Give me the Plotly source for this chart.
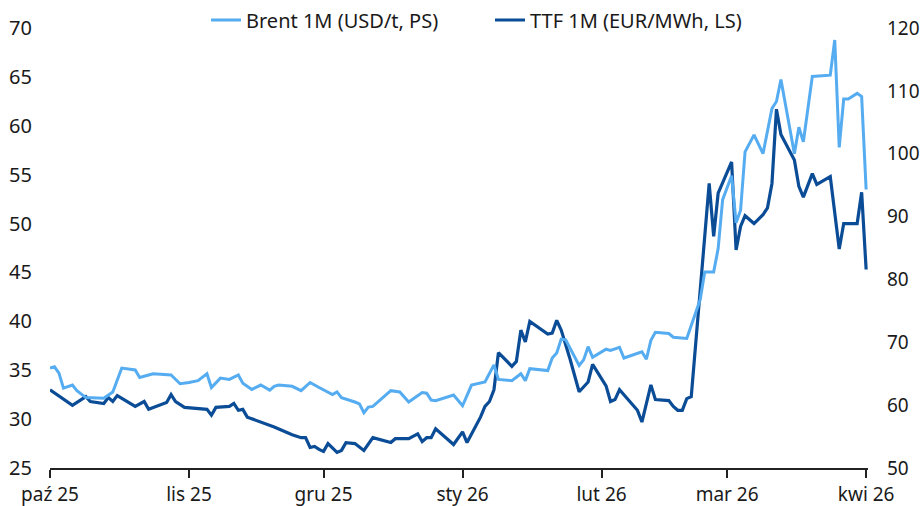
import plotly.graph_objects as go

# ---- data ----
ttf_dates = [
    "2025-10-01", "2025-10-06", "2025-10-09", "2025-10-10", "2025-10-13", "2025-10-14",
    "2025-10-15", "2025-10-16", "2025-10-20", "2025-10-22", "2025-10-23", "2025-10-27",
    "2025-10-28", "2025-10-29", "2025-10-31", "2025-11-05", "2025-11-06", "2025-11-07",
    "2025-11-10", "2025-11-11", "2025-11-12", "2025-11-13", "2025-11-14", "2025-11-17",
    "2025-11-19", "2025-11-20", "2025-11-24", "2025-11-26", "2025-11-27", "2025-11-28",
    "2025-11-29", "2025-11-30", "2025-12-01", "2025-12-02", "2025-12-04", "2025-12-05",
    "2025-12-06", "2025-12-08", "2025-12-10", "2025-12-11", "2025-12-12", "2025-12-16",
    "2025-12-17", "2025-12-20", "2025-12-22", "2025-12-23", "2025-12-24", "2025-12-25",
    "2025-12-26", "2025-12-30", "2026-01-01", "2026-01-02", "2026-01-05", "2026-01-06",
    "2026-01-07", "2026-01-08", "2026-01-09", "2026-01-12", "2026-01-13", "2026-01-14",
    "2026-01-15", "2026-01-16", "2026-01-20", "2026-01-21", "2026-01-22", "2026-01-23",
    "2026-01-25", "2026-01-27", "2026-01-28", "2026-01-29", "2026-01-30", "2026-02-02",
    "2026-02-03", "2026-02-04", "2026-02-05", "2026-02-09", "2026-02-10", "2026-02-12",
    "2026-02-13", "2026-02-16", "2026-02-17", "2026-02-18", "2026-02-19", "2026-02-20",
    "2026-02-21", "2026-02-25", "2026-02-26", "2026-02-27", "2026-03-02", "2026-03-03",
    "2026-03-04", "2026-03-05", "2026-03-07", "2026-03-09", "2026-03-10", "2026-03-11",
    "2026-03-12", "2026-03-13", "2026-03-16", "2026-03-17", "2026-03-18", "2026-03-20",
    "2026-03-21", "2026-03-24", "2026-03-26", "2026-03-27", "2026-03-30", "2026-03-31",
    "2026-04-01",
]
ttf_values = [
    33.0, 31.4, 32.3, 31.8, 31.6, 32.2,
    31.8, 32.4, 31.3, 31.8, 31.0, 31.7,
    32.5, 31.8, 31.2, 31.0, 30.4, 31.2,
    31.3, 31.6, 30.9, 31.0, 30.2, 29.7,
    29.4, 29.2, 28.4, 28.1, 28.1, 27.1,
    27.2, 26.9, 26.7, 27.5, 26.6, 26.8,
    27.6, 27.5, 26.8, 27.4, 28.1, 27.6,
    28.0, 28.0, 28.5, 27.7, 28.1, 28.1,
    29.0, 27.4, 28.7, 27.6, 30.2, 31.3,
    31.8, 33.0, 36.8, 35.4, 35.9, 39.1,
    37.9, 40.0, 38.7, 38.8, 40.1, 39.1,
    36.1, 32.8, 33.3, 33.8, 35.6, 33.4,
    31.8, 32.0, 33.0, 30.9, 29.7, 33.5,
    32.0, 31.9, 31.3, 30.9, 30.9, 32.1,
    32.3, 54.1, 48.7, 53.1, 56.3, 47.3,
    49.7, 50.8, 50.0, 50.9, 51.6, 54.1,
    61.7, 59.1, 56.5, 53.8, 52.7, 55.1,
    54.0, 54.8, 47.4, 50.0, 50.0, 53.2,
    45.3,
]

brent_dates = [
    "2025-10-01", "2025-10-02", "2025-10-03", "2025-10-04", "2025-10-06", "2025-10-07",
    "2025-10-09", "2025-10-13", "2025-10-15", "2025-10-16", "2025-10-17", "2025-10-20",
    "2025-10-21", "2025-10-23", "2025-10-24", "2025-10-28", "2025-10-30", "2025-11-01",
    "2025-11-03", "2025-11-05", "2025-11-06", "2025-11-08", "2025-11-10", "2025-11-12",
    "2025-11-13", "2025-11-15", "2025-11-17", "2025-11-19", "2025-11-20", "2025-11-21",
    "2025-11-24", "2025-11-26", "2025-11-28", "2025-11-30", "2025-12-02", "2025-12-03",
    "2025-12-04", "2025-12-05", "2025-12-08", "2025-12-09", "2025-12-10", "2025-12-11",
    "2025-12-12", "2025-12-16", "2025-12-18", "2025-12-20", "2025-12-23", "2025-12-24",
    "2025-12-25", "2025-12-26", "2025-12-30", "2026-01-01", "2026-01-03", "2026-01-06",
    "2026-01-08", "2026-01-09", "2026-01-12", "2026-01-14", "2026-01-15", "2026-01-16",
    "2026-01-20", "2026-01-21", "2026-01-22", "2026-01-23", "2026-01-24", "2026-01-27",
    "2026-01-28", "2026-01-29", "2026-01-30", "2026-01-31", "2026-02-02", "2026-02-03",
    "2026-02-05", "2026-02-06", "2026-02-10", "2026-02-11", "2026-02-12", "2026-02-13",
    "2026-02-16", "2026-02-17", "2026-02-20", "2026-02-23", "2026-02-24", "2026-02-26",
    "2026-02-27", "2026-02-28", "2026-03-02", "2026-03-03", "2026-03-04", "2026-03-05",
    "2026-03-07", "2026-03-09", "2026-03-10", "2026-03-11", "2026-03-12", "2026-03-13",
    "2026-03-16", "2026-03-17", "2026-03-18", "2026-03-20", "2026-03-24", "2026-03-25",
    "2026-03-26", "2026-03-27", "2026-03-28", "2026-03-30", "2026-03-31", "2026-04-01",
]
brent_values = [
    65.9, 66.1, 65.1, 62.7, 63.2, 62.3,
    61.2, 61.1, 62.1, 64.1, 65.9, 65.6,
    64.4, 64.8, 65.0, 64.8, 63.4, 63.6,
    63.9, 65.0, 62.8, 64.3, 64.1, 64.8,
    63.5, 62.5, 63.2, 62.4, 63.0, 63.2,
    63.0, 62.3, 63.6, 62.8, 62.0, 61.7,
    62.1, 61.2, 60.5, 60.2, 58.8, 59.7,
    59.8, 62.3, 62.1, 60.5, 62.0, 61.9,
    60.8, 60.7, 61.6, 59.9, 63.2, 63.7,
    66.4, 64.1, 63.9, 65.0, 63.9, 65.8,
    65.5, 67.5, 68.3, 70.5, 70.4, 66.3,
    67.2, 69.3, 67.6, 68.0, 68.9, 68.7,
    69.2, 67.5, 68.5, 67.3, 70.3, 71.6,
    71.4, 70.8, 70.6, 76.8, 81.2, 81.2,
    84.9, 92.7, 96.5, 89.0, 91.0, 100.3,
    103.0, 100.0, 103.8, 107.2, 108.3, 111.8,
    100.0, 104.2, 101.9, 112.3, 112.5, 118.1,
    101.0, 108.7, 108.7, 109.6, 109.1, 94.3,
]

month_ticks = ["2025-10-01", "2025-11-01", "2025-12-01", "2026-01-01",
               "2026-02-01", "2026-03-01", "2026-04-01"]
month_labels = ["paź 25", "lis 25", "gru 25", "sty 26", "lut 26", "mar 26", "kwi 26"]

left_ticks = [25, 30, 35, 40, 45, 50, 55, 60, 65, 70]
right_ticks = [50, 60, 70, 80, 90, 100, 110, 120]

LIGHT = "#55acf0"
DARK = "#0b4c97"
FONT = "Noto Sans"
TXT = "#1a1a1a"
FS = 20

W, H = 923, 506

fig = go.Figure()
fig.add_trace(go.Scatter(
    x=brent_dates, y=brent_values, name="Brent 1M (USD/t, PS)",
    mode="lines", line=dict(color=LIGHT, width=3), yaxis="y2", legend="legend",
))
fig.add_trace(go.Scatter(
    x=ttf_dates, y=ttf_values, name="TTF 1M (EUR/MWh, LS)",
    mode="lines", line=dict(color=DARK, width=3.2), yaxis="y", legend="legend2",
))

leg_common = dict(orientation="h", yref="container", y=1 - 20 / H, yanchor="middle",
                  xref="container", xanchor="left",
                  font=dict(size=FS, color=TXT), bgcolor="rgba(0,0,0,0)")

fig.update_layout(
    width=W, height=H,
    margin=dict(l=50, r=55, t=28, b=38, autoexpand=False),
    paper_bgcolor="white", plot_bgcolor="white",
    font=dict(family=FONT, size=FS, color=TXT),
    showlegend=True,
    legend=dict(x=206 / W, **leg_common),
    legend2=dict(x=490 / W, **leg_common),
    xaxis=dict(
        type="date", range=["2025-10-01", "2026-04-01 10:00"],
        tickvals=month_ticks, ticktext=month_labels,
        showgrid=False, zeroline=False,
        showline=True, linecolor="#222", linewidth=1.5,
        ticks="outside", ticklen=8, tickwidth=1.5, tickcolor="#222",
        tickfont=dict(size=19, color=TXT),
    ),
    yaxis=dict(
        range=[25, 70], tickvals=left_ticks, showgrid=False, zeroline=False,
        showline=False, ticks="", ticklabelstandoff=17,
        tickfont=dict(size=FS, color=TXT),
    ),
    yaxis2=dict(
        range=[50, 120], tickvals=right_ticks, overlaying="y", side="right",
        showgrid=False, zeroline=False, showline=False, ticks="",
        ticklabelstandoff=18, tickfont=dict(size=19, color=TXT),
    ),
)

fig.write_html(
    "out.html",
    config={"displayModeBar": False},
    post_script="document.body.style.margin='0';document.body.style.overflow='hidden';",
)
